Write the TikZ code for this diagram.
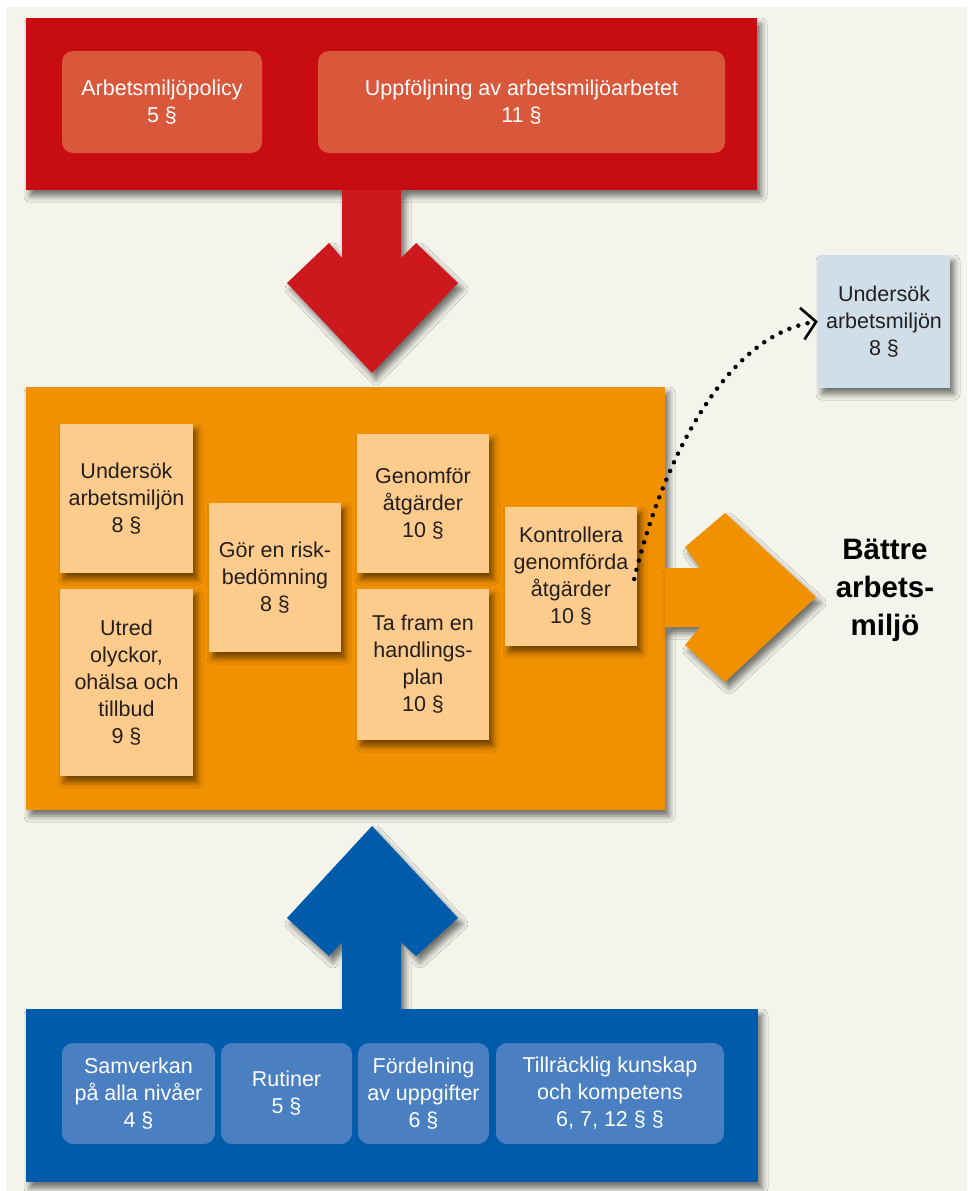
\documentclass[tikz,border=0pt]{standalone}
\usepackage{fontspec}
\setmainfont{Liberation Sans}
\usetikzlibrary{positioning, arrows.meta, shadows.blur}

\definecolor{bgcream}{RGB}{244,244,236}
\definecolor{panelred}{RGB}{200,13,18}
\definecolor{arrowred}{RGB}{205,25,30}
\definecolor{lightred}{RGB}{217,87,58}
\definecolor{panelorange}{RGB}{242,145,0}
\definecolor{lightorange}{RGB}{253,203,140}
\definecolor{panelblue}{RGB}{0,91,170}
\definecolor{lightblue}{RGB}{74,127,193}
\definecolor{grayblue}{RGB}{207,222,233}
\definecolor{textdark}{RGB}{35,31,32}

\newcommand{\boxfont}{\fontsize{21.5}{27}\selectfont}
\newcommand{\goalfont}{\fontsize{29.5}{38}\selectfont\bfseries}

\tikzset{
    soft_shadow/.style={blur shadow={shadow xshift=4pt, shadow yshift=-6pt, shadow blur radius=6pt, shadow opacity=55}},
    panel/.style={rectangle, inner sep=0pt, soft_shadow},
    red_box/.style={rectangle, rounded corners=11pt, fill=lightred, text=white, text centered, align=center, font=\boxfont},
    blue_box/.style={rectangle, rounded corners=11pt, fill=lightblue, text=white, text centered, align=center, font=\boxfont},
    step_note/.style={rectangle, fill=lightorange, text=textdark, text centered, align=center, font=\boxfont, soft_shadow},
    side_note/.style={rectangle, fill=grayblue, text=textdark, text centered, align=center, font=\boxfont, soft_shadow},
    goal_text/.style={text=black, text centered, align=center, font=\goalfont},
    block_arrow/.style={soft_shadow},
    dotted_arrow/.style={line width=4.5pt, line cap=round, dash pattern=on 0pt off 9.5pt,
        -{Straight Barb[length=14pt, width=32pt, line width=2.6pt]}},
}

\begin{document}
\begin{tikzpicture}[x=1pt, y=-1pt]
      \useasboundingbox (0,0) rectangle (967,1191);
      \fill [white] (0,0) rectangle (967,1191);
      \fill [bgcream] (6,7) rectangle (967,1191);

      %%%%%%%%%%%%%
      % RED PANEL %
      %%%%%%%%%%%%%
      \node (policy_panel) [panel, fill=panelred, minimum width=731pt, minimum height=172pt]
            at (391.5,104) {};
      \node (policy) [red_box, minimum width=200pt, minimum height=102pt] at (162,102)
            {Arbetsmiljöpolicy \\ 5 §};
      \node (follow_up) [red_box, minimum width=407pt, minimum height=102pt] at (521.5,102)
            {Uppföljning av arbetsmiljöarbetet \\ 11 §};

      \fill [block_arrow, arrowred] (342,190) -- (401,190) -- (401,258) -- (416,243)
            -- (458,283) -- (372,373) -- (287,283) -- (329,243) -- (342,258) -- cycle;

      %%%%%%%%%%%%%%%%
      % ORANGE PANEL %
      %%%%%%%%%%%%%%%%
      \node (work_panel) [panel, fill=panelorange, minimum width=639pt, minimum height=423pt]
            at (345.5,598.5) {};
      \node (investigate) [step_note, minimum width=133pt, minimum height=149pt] at (126.5,498.5)
            {Undersök \\ arbetsmiljön \\ 8 §};
      \node (incidents) [step_note, minimum width=133pt, minimum height=187pt] at (126.5,682.5)
            {Utred \\ olyckor, \\ ohälsa och \\ tillbud \\ 9 §};
      \node (risk) [step_note, minimum width=132pt, minimum height=149pt] at (275,577.5)
            {Gör en risk- \\ bedömning \\ 8 §};
      \node (carry_out) [step_note, minimum width=132pt, minimum height=139pt] at (423,503.5)
            {Genomför \\ åtgärder \\ 10 §};
      \node (action_plan) [step_note, minimum width=132pt, minimum height=151pt] at (423,664.5)
            {Ta fram en \\ handlings- \\ plan \\ 10 §};
      \node (check) [step_note, minimum width=132pt, minimum height=139pt] at (571,576.5)
            {Kontrollera \\ genomförda \\ åtgärder \\ 10 §};

      \fill [block_arrow, panelorange] (665,568) -- (700,568) -- (685,547) -- (725,513)
            -- (816,597) -- (725,682) -- (685,645) -- (700,627) -- (665,627) -- cycle;

      \node (better) [goal_text] at (885,590) {Bättre \\ arbets- \\ miljö};

      %%%%%%%%%%%%%%
      % BLUE PANEL %
      %%%%%%%%%%%%%%
      \fill [block_arrow, panelblue] (342,1009) -- (401,1009) -- (401,942) -- (416,956)
            -- (458,918) -- (372,826) -- (287,918) -- (329,956) -- (342,942) -- cycle;

      \node (base_panel) [panel, fill=panelblue, minimum width=732pt, minimum height=173pt]
            at (392,1095.5) {};
      \node (cooperation) [blue_box, minimum width=153pt, minimum height=101pt] at (138.5,1093.5)
            {Samverkan \\ på alla nivåer \\ 4 §};
      \node (routines) [blue_box, minimum width=131pt, minimum height=101pt] at (286.5,1093.5)
            {Rutiner \\ 5 §};
      \node (tasks) [blue_box, minimum width=131pt, minimum height=101pt] at (423.5,1093.5)
            {Fördelning \\ av uppgifter \\ 6 §};
      \node (knowledge) [blue_box, minimum width=228pt, minimum height=101pt] at (610,1093.5)
            {Tillräcklig kunskap \\ och kompetens \\ 6, 7, 12 § §};

      %%%%%%%%%%%%%%%%
      % FEEDBACK     %
      %%%%%%%%%%%%%%%%
      \node (investigate_again) [side_note, minimum width=132pt, minimum height=133pt] at (884,321.5)
            {Undersök \\ arbetsmiljön \\ 8 §};

      \coordinate (check_dot) at ([xshift=-3pt, yshift=-2.5pt]check.east);
      \draw [dotted_arrow] (check_dot) .. controls (660,470) and (722,335) .. (investigate_again.west);
   \end{tikzpicture}
\end{document}
